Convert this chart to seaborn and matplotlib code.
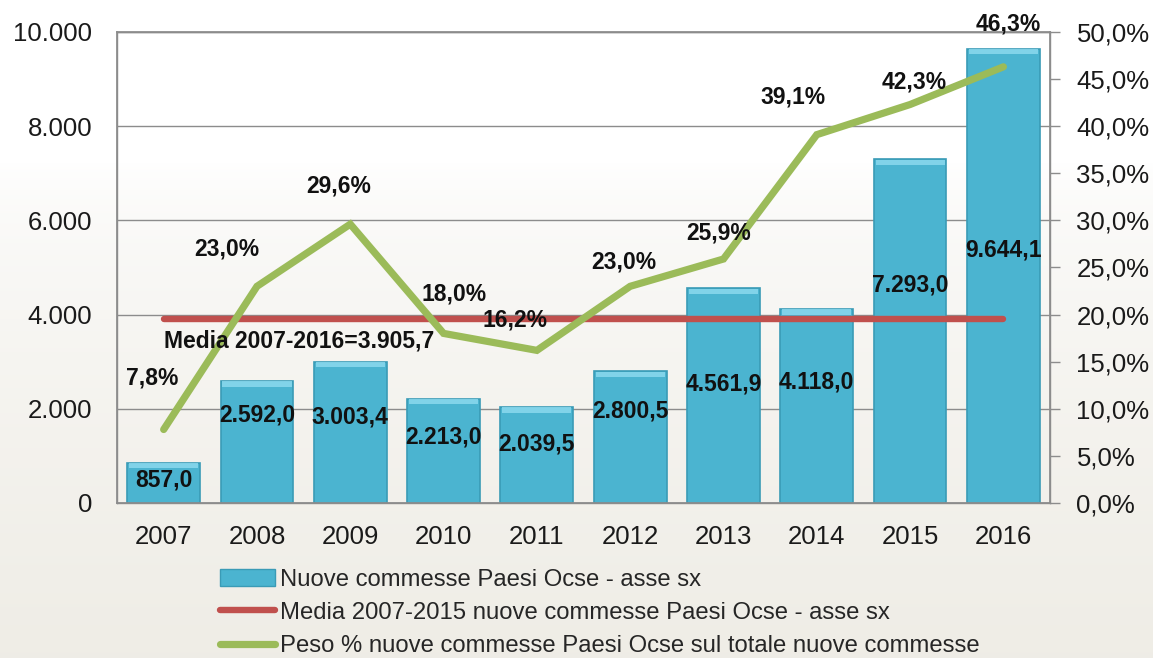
import numpy as np
import pandas as pd
import matplotlib
matplotlib.use("Agg")
import matplotlib.pyplot as plt
import seaborn as sns
from matplotlib.patches import Patch
from matplotlib.lines import Line2D
from matplotlib.ticker import FuncFormatter, MultipleLocator

# ---- data ----
years = ["2007", "2008", "2009", "2010", "2011", "2012", "2013", "2014", "2015", "2016"]
commesse = [857.0, 2592.0, 3003.4, 2213.0, 2039.5, 2800.5, 4561.9, 4118.0, 7293.0, 9644.1]
peso_pct = [7.8, 23.0, 29.6, 18.0, 16.2, 23.0, 25.9, 39.1, 42.3, 46.3]
media = 3905.7
media_label = "Media 2007-2016=3.905,7"
legend_labels = ["Nuove commesse Paesi Ocse - asse sx",
                 "Media 2007-2015 nuove commesse Paesi Ocse - asse sx",
                 "Peso % nuove commesse Paesi Ocse sul totale nuove commesse"]

# label placement (layout only)
bar_label_y = [488, 1868, 1826, 1401, 1253, 1953, 2527, 2569, 4628, 5372]
pct_label_dx = [-0.12, -0.32, -0.12, 0.11, -0.23, -0.07, -0.05, -0.25, 0.04, 0.05]
pct_label_dy = [5.5, 4.0, 4.0, 4.2, 3.2, 2.6, 2.8, 4.0, 2.4, 4.6]

def it_num(v, dec=1):
    s = f"{v:,.{dec}f}"
    return s.replace(",", "X").replace(".", ",").replace("X", ".")

sns.set_theme(style="white")
plt.rcParams["font.family"] = ["Liberation Sans", "DejaVu Sans"]

fig = plt.figure(figsize=(11.53, 6.58), dpi=100)

# background gradient
bg = fig.add_axes([0, 0, 1, 1], zorder=-10)
grad = np.linspace(0, 1, 256).reshape(-1, 1)
grad = np.clip((grad - 0.25) / 0.75, 0, 1) ** 0.6
top = np.array([1.0, 1.0, 1.0])
bot = np.array([0.937, 0.929, 0.902])
img = top[None, None, :] * (1 - grad[..., None]) + bot[None, None, :] * grad[..., None]
bg.imshow(img, aspect="auto", extent=[0, 1, 0, 1], origin="upper")
bg.axis("off")

ax = fig.add_axes([0.1015, 0.2356, 0.8092, 0.7158])
ax.set_facecolor("none")

df = pd.DataFrame({"anno": years, "commesse": commesse})
sns.barplot(data=df, x="anno", y="commesse", ax=ax, color="#4bb4d0",
            width=0.78, saturation=1, edgecolor="#3a9bb6", linewidth=1.2, zorder=3)
# light bevel on top of bars
for p in ax.patches:
    x0, w, h = p.get_x(), p.get_width(), p.get_height()
    ax.fill_between([x0 + 0.02, x0 + w - 0.02], h - 120, h - 10, color="#8fdcf0",
                    alpha=0.8, zorder=4, linewidth=0)

n = len(years)
xs = np.arange(n)
ax.set_xlim(-0.5, n - 0.5)
ax.set_ylim(0, 10000)
ax.yaxis.set_major_locator(MultipleLocator(2000))
ax.yaxis.set_major_formatter(FuncFormatter(lambda v, p: it_num(v, 0)))
ax.grid(axis="y", color="#8c8c8c", linewidth=1.0, zorder=0)
ax.set_axisbelow(True)
ax.set_xlabel("")
ax.set_ylabel("")
for s in ["left", "bottom", "right", "top"]:
    ax.spines[s].set_color("#8c8c8c")
    ax.spines[s].set_linewidth(1.0)
ax.tick_params(axis="both", labelsize=18.5, colors="#1a1a1a", length=0)
ax.tick_params(axis="x", pad=16)
ax.tick_params(axis="y", pad=18)

# mean line
sns.lineplot(x=[xs[0], xs[-1]], y=[media, media], ax=ax, color="#c0504d",
             linewidth=4.6, zorder=5, legend=False)

# secondary axis
ax2 = ax.twinx()
ax2.set_ylim(0, 50)
ax2.set_xlim(-0.5, n - 0.5)
sns.lineplot(x=xs, y=peso_pct, ax=ax2, color="#9bbb59", linewidth=5.2, zorder=6,
             legend=False, solid_capstyle="round", solid_joinstyle="miter")
ax2.yaxis.set_major_locator(MultipleLocator(5))
ax2.yaxis.set_major_formatter(FuncFormatter(lambda v, p: it_num(v, 1) + "%"))
ax2.tick_params(axis="y", labelsize=18.5, labelcolor="#1a1a1a", color="#8c8c8c",
                length=7, width=1.0, pad=12, direction="out")
ax2.grid(False)
for s in ["left", "bottom", "right", "top"]:
    ax2.spines[s].set_color("#8c8c8c")
ax2.set_ylabel("")

# labels drawn on top of everything
ax2.text(xs[0], media - 470, media_label, fontsize=16.5, fontweight="bold",
         ha="left", va="center", zorder=9, color="#111111", transform=ax.transData)
for i, v in enumerate(commesse):
    ax2.text(xs[i], bar_label_y[i], it_num(v, 1), fontsize=16.5, fontweight="bold",
             ha="center", va="center", zorder=9, color="#111111",
             transform=ax.transData)
for i, v in enumerate(peso_pct):
    ax2.text(xs[i] + pct_label_dx[i], v + pct_label_dy[i], it_num(v, 1) + "%",
             fontsize=16.5, fontweight="bold", ha="center", va="center",
             zorder=9, color="#111111", clip_on=False)

# legend
handles = [Patch(facecolor="#4bb4d0", edgecolor="#3a9bb6"),
           Line2D([0], [0], color="#c0504d", linewidth=4.6),
           Line2D([0], [0], color="#9bbb59", linewidth=5.2, solid_capstyle="round")]
fig.legend(handles, legend_labels, loc="upper left",
           bbox_to_anchor=(0.191, 0.136), frameon=False, fontsize=17.2,
           handlelength=2.3, handleheight=0.7, handletextpad=0.2,
           labelspacing=0.47, borderaxespad=0, borderpad=0)

fig.savefig("out.png", dpi=100)
